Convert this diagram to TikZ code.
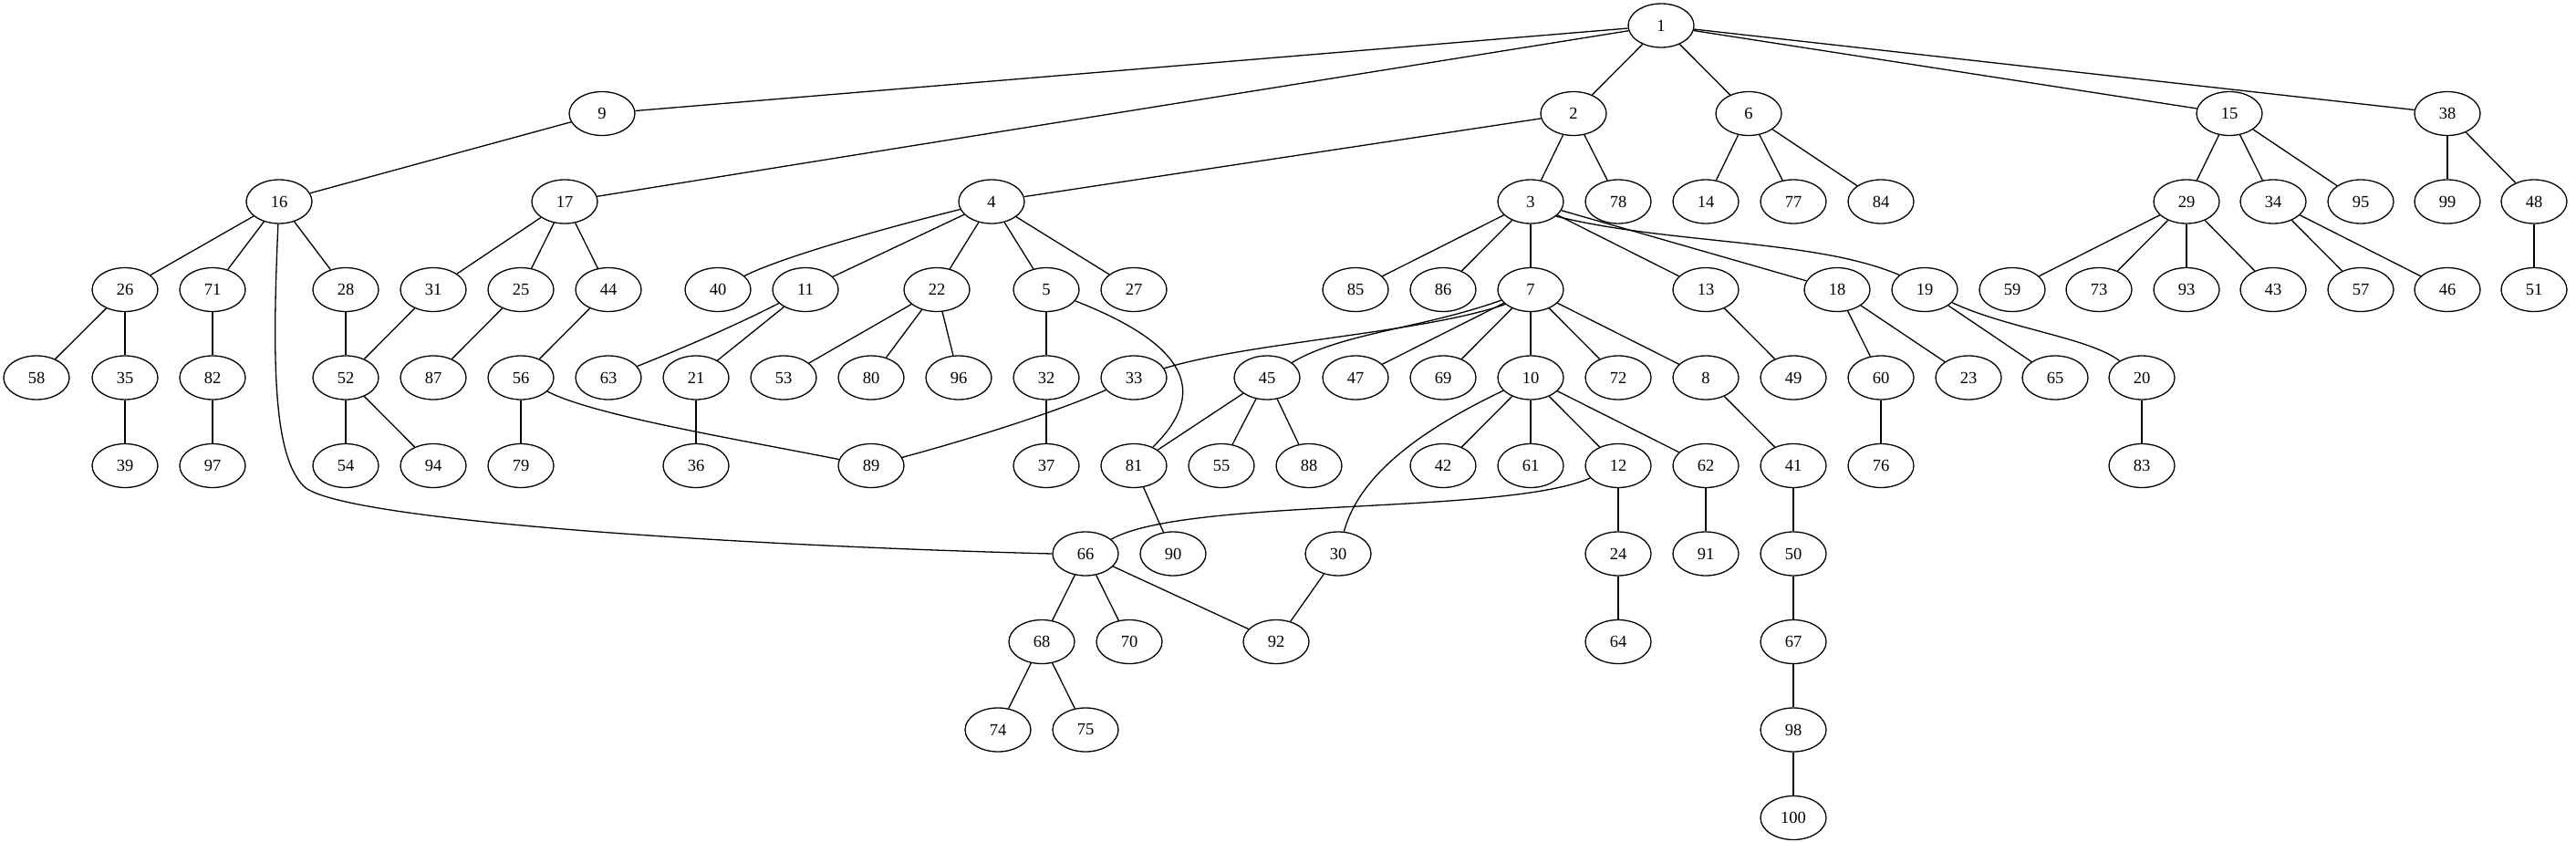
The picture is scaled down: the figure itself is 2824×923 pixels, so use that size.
\documentclass[tikz,border=0pt]{standalone}
\usepackage{fontspec}
\setmainfont{Liberation Serif}
\usetikzlibrary{shapes.geometric}
\begin{document}
\begin{tikzpicture}[x=1pt,y=-1pt,
  nd/.style={draw,ellipse,line width=1.3pt,minimum width=72pt,minimum height=48pt,inner sep=0pt,font=\fontsize{18.5}{20}\selectfont},
  ed/.style={line width=1.3pt}]
\useasboundingbox (0,0) rectangle (2824,923);
\foreach \n/\x/\r in {
 1/1821/0,
 9/660/1, 2/1725/1, 6/1917/1, 15/2444/1, 38/2683/1,
 16/306/2, 17/619/2, 4/1087/2, 3/1678/2, 78/1774/2, 14/1870/2, 77/1966/2, 84/2062/2, 29/2397/2, 34/2492/2, 95/2588/2, 99/2683/2, 48/2778/2,
 26/137/3, 71/233/3, 28/379/3, 31/475/3, 25/571/3, 44/667/3, 40/787/3, 11/883/3, 22/1027/3, 5/1147/3, 27/1243/3, 85/1486/3, 86/1582/3, 7/1678/3, 13/1870/3, 18/2014/3, 19/2110/3, 59/2206/3, 73/2301/3, 93/2397/3, 43/2492/3, 57/2588/3, 46/2683/3, 51/2778/3,
 58/40/4, 35/137/4, 82/233/4, 52/379/4, 87/475/4, 56/571/4, 63/667/4, 21/763/4, 53/859/4, 80/955/4, 96/1051/4, 32/1147/4, 33/1243/4, 45/1389/4, 47/1486/4, 69/1582/4, 10/1678/4, 72/1774/4, 8/1870/4, 49/1966/4, 60/2062/4, 23/2158/4, 65/2253/4, 20/2348/4,
 39/137/5, 97/233/5, 54/379/5, 94/475/5, 79/571/5, 36/763/5, 89/955/5, 37/1147/5, 81/1243/5, 55/1339/5, 88/1435/5, 42/1582/5, 61/1678/5, 12/1774/5, 62/1870/5, 41/1966/5, 76/2062/5, 83/2348/5,
 66/1190/6, 90/1286/6, 30/1467/6, 24/1774/6, 91/1870/6, 50/1966/6,
 68/1142/7, 70/1238/7, 92/1399/7, 64/1774/7, 67/1966/7,
 74/1094/8, 75/1190/8, 98/1966/8,
 100/1966/9}
 \node[nd] (n\n) at (\x,{28+96.5*\r}) {\n};
\foreach \a/\b in {
 1/9, 1/17, 1/2, 1/6, 1/15, 1/38, 9/16, 16/26, 16/71, 16/28,
 17/31, 17/25, 17/44, 2/4, 2/3, 2/78, 6/14, 6/77, 6/84,
 15/29, 15/34, 15/95, 38/99, 38/48, 4/11, 4/22, 4/5, 4/27,
 3/85, 3/86, 3/7, 3/13, 3/18, 29/59, 29/73, 29/93, 29/43, 34/57, 34/46, 48/51,
 26/58, 26/35, 71/82, 28/52, 31/52, 25/87, 44/56, 11/21,
 22/53, 22/80, 22/96, 5/32, 7/47, 7/69, 7/10, 7/72, 7/8,
 13/49, 18/60, 18/23, 19/65, 35/39, 82/97, 52/54, 52/94, 56/79,
 21/36, 32/37, 45/81, 45/55, 45/88, 10/42, 10/61, 10/12, 10/62,
 8/41, 60/76, 20/83, 81/90, 12/24, 62/91, 41/50, 30/92, 66/68, 66/70, 66/92,
 24/64, 50/67, 68/74, 68/75, 67/98, 98/100}
 \draw[ed] (n\a) -- (n\b);
% curved connectors
\draw[ed] (n16) .. controls (298,400) and (300,500) .. (333,533) .. controls (370,570) and (800,598) .. (n66.west);
\draw[ed] (n5) .. controls (1320,385) and (1315,440) .. (n81);
\draw[ed] (n7) .. controls (1560,360) and (1470,365) .. (n45);
\draw[ed] (n7.-150) .. controls (1560,365) and (1370,375) .. (n33);
\draw[ed] (n19) .. controls (2200,360) and (2290,370) .. (n20);
\draw[ed] (n3.-30) .. controls (1830,268) and (1990,262) .. (n19.150);
\draw[ed] (n4) .. controls (950,255) and (850,285) .. (n40);
\draw[ed] (n11) .. controls (800,360) and (740,385) .. (n63);
\draw[ed] (n56) .. controls (650,455) and (800,480) .. (n89);
\draw[ed] (n33) .. controls (1150,455) and (1050,485) .. (n89);
\draw[ed] (n10) .. controls (1560,470) and (1490,520) .. (n30);
\draw[ed] (n12) .. controls (1650,565) and (1300,545) .. (n66);
\end{tikzpicture}
\end{document}
